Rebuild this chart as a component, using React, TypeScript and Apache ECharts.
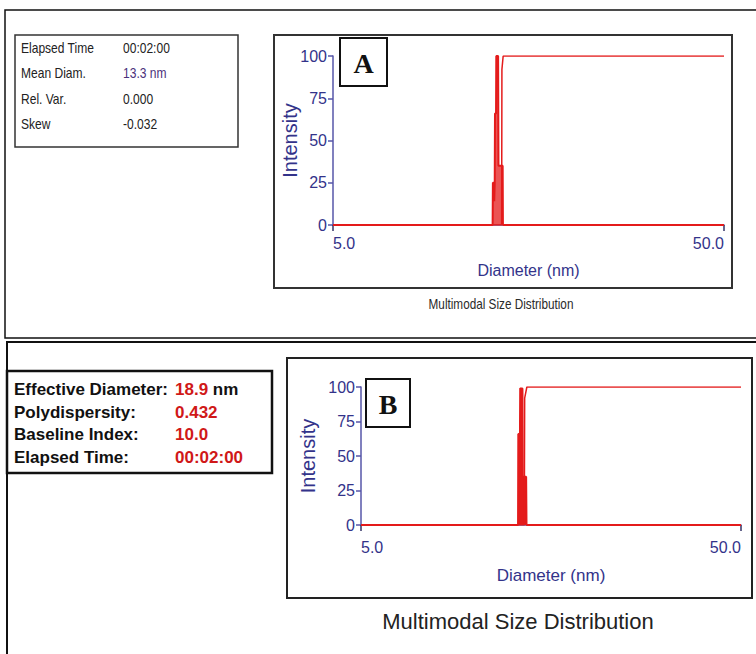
import React, { useEffect, useRef } from "react";
import * as echarts from "echarts";

// ---- Data ----
// Panel A: intensity distribution (spike) and cumulative curve
const diamA = [5, 12.8, 12.82, 12.9, 12.92, 12.96, 12.98, 13.06, 13.08, 13.22, 13.25, 13.58, 13.6, 50];
const intensityA = [0, 0, 25, 25, 14, 25, 66, 66, 100, 100, 35, 35, 0, 0];
const cumDiamA = [5, 13.5, 13.52, 13.62, 50];
const cumA = [0, 0, 92, 100, 100];

// Panel B
const diamB = [5, 12.95, 12.97, 13.1, 13.12, 13.3, 13.33, 13.6, 13.63, 50];
const intensityB = [0, 0, 66, 66, 99, 99, 35, 35, 0, 0];
const cumDiamB = [5, 13.45, 13.48, 13.66, 50];
const cumB = [0, 0, 92, 100, 100];

// Axis ticks
const xTickValues = [5, 50];
const yMin = 0;
const yMax = 100;
const yInterval = 25;

// Info tables
const infoLabelsA = ["Elapsed Time", "Mean Diam.", "Rel. Var.", "Skew"];
const infoValuesA = ["00:02:00", "13.3 nm", "0.000", "-0.032"];
const infoLabelsB = ["Effective Diameter:", "Polydispersity:", "Baseline Index:", "Elapsed Time:"];
const infoValuesB = ["18.9", "0.432", "10.0", "00:02:00"];

const panelLetters = ["A", "B"];
const chartTitle = "Multimodal Size Distribution";
const xName = "Diameter (nm)";
const yName = "Intensity";

const RED = "#e41b1b";
const SANS = '"Liberation Sans", Arial, sans-serif';
const SERIF = '"Liberation Serif", "Times New Roman", serif';
const AXIS_LINE = "#5656a8";
const AXIS_TEXT = "#33338a";

const zip = (xs: number[], ys: number[]) => xs.map((x, i) => [x, ys[i]]);

function xAxisCfg(gridIndex: number, labelSize: number, nameSize: number, nameGap: number, margin: number) {
  return {
    type: "log",
    logBase: 10,
    gridIndex,
    min: 5,
    max: 50,
    name: xName,
    nameLocation: "middle",
    nameGap,
    nameMoveOverlap: false,
    nameTextStyle: { fontSize: nameSize, color: AXIS_TEXT, fontFamily: SANS },
    axisLine: { onZero: false, lineStyle: { color: AXIS_LINE, width: 1.5 } },
    axisTick: { show: true, customValues: xTickValues, length: 6, lineStyle: { color: "#333366", width: 1.5 } },
    axisLabel: {
      customValues: xTickValues,
      formatter: (v: number) => v.toFixed(1),
      alignMinLabel: "left",
      alignMaxLabel: "right",
      margin,
      fontSize: labelSize,
      color: AXIS_TEXT,
      fontFamily: SANS,
    },
    splitLine: { show: false },
    minorTick: { show: false },
  };
}

function yAxisCfg(gridIndex: number, labelSize: number, nameSize: number, nameGap: number) {
  return {
    type: "value",
    gridIndex,
    min: yMin,
    max: yMax,
    interval: yInterval,
    name: yName,
    nameLocation: "middle",
    nameGap,
    nameMoveOverlap: false,
    nameTextStyle: { fontSize: nameSize, color: AXIS_TEXT, fontFamily: SANS },
    axisLine: { show: true, onZero: false, lineStyle: { color: AXIS_LINE, width: 1.5 } },
    axisTick: { show: true, length: 5, lineStyle: { color: AXIS_LINE, width: 1.5 } },
    axisLabel: { margin: 6, fontSize: labelSize, color: AXIS_TEXT, fontFamily: SANS },
    splitLine: { show: false },
  };
}

function lineSeries(idx: number, xs: number[], ys: number[], width: number, area: number) {
  return {
    type: "line",
    xAxisIndex: idx,
    yAxisIndex: idx,
    data: zip(xs, ys),
    symbol: "none",
    showSymbol: false,
    lineStyle: { color: RED, width },
    itemStyle: { color: RED },
    areaStyle: area > 0 ? { color: RED, opacity: area } : undefined,
    z: 3,
  };
}

export default function App() {
  const ref = useRef<HTMLDivElement>(null);
  useEffect(() => {
    if (!ref.current) return;
    const chart = echarts.init(ref.current, null, { renderer: "svg" });

    const graphics: any[] = [];
    // outer frames
    graphics.push({ type: "rect", shape: { x: 5, y: 10, width: 770, height: 328 }, style: { fill: "none", stroke: "#111", lineWidth: 1.5 }, z: 0 });
    graphics.push({ type: "rect", shape: { x: 7, y: 342, width: 770, height: 330 }, style: { fill: "none", stroke: "#111", lineWidth: 2 }, z: 0 });
    // chart frames
    graphics.push({ type: "rect", shape: { x: 274, y: 35, width: 458, height: 253 }, style: { fill: "none", stroke: "#333", lineWidth: 2 }, z: 0 });
    graphics.push({ type: "rect", shape: { x: 287, y: 358, width: 465, height: 240 }, style: { fill: "none", stroke: "#222", lineWidth: 2 }, z: 0 });
    // titles under the charts
    graphics.push({ type: "text", x: 501, y: 304, scaleX: 0.84, style: { text: chartTitle, fontSize: 14, fontFamily: SANS, fill: "#2a2a2a", align: "center", verticalAlign: "middle" } });
    graphics.push({ type: "text", x: 518, y: 621, style: { text: chartTitle, fontSize: 22, fontFamily: SANS, fill: "#222", align: "center", verticalAlign: "middle" } });
    // panel letter boxes
    graphics.push({ type: "rect", shape: { x: 340, y: 38, width: 47, height: 48 }, style: { fill: "#fff", stroke: "#111", lineWidth: 2 }, z: 10 });
    graphics.push({ type: "text", x: 363.5, y: 63, style: { text: panelLetters[0], fontSize: 28, fontWeight: "bold", fontFamily: SERIF, fill: "#111", align: "center", verticalAlign: "middle" }, z: 11 });
    graphics.push({ type: "rect", shape: { x: 366, y: 379, width: 44, height: 48 }, style: { fill: "#fff", stroke: "#111", lineWidth: 2 }, z: 10 });
    graphics.push({ type: "text", x: 388, y: 404, style: { text: panelLetters[1], fontSize: 28, fontWeight: "bold", fontFamily: SERIF, fill: "#111", align: "center", verticalAlign: "middle" }, z: 11 });

    // info box A
    graphics.push({ type: "rect", shape: { x: 15, y: 35, width: 223, height: 112 }, style: { fill: "none", stroke: "#333", lineWidth: 1.5 } });
    const rowsA = [48, 73, 99, 124];
    infoLabelsA.forEach((t, i) => {
      graphics.push({ type: "text", x: 21, y: rowsA[i], scaleX: 0.86, style: { text: t, fontSize: 14, fontFamily: SANS, fill: "#222", verticalAlign: "middle" } });
      graphics.push({ type: "text", x: 123, y: rowsA[i], scaleX: 0.86, style: { text: infoValuesA[i], fontSize: 14, fontFamily: SANS, fill: i === 1 ? "#4a2f7a" : "#222", verticalAlign: "middle" } });
    });

    // info box B
    graphics.push({ type: "rect", shape: { x: 7, y: 371, width: 265, height: 102 }, style: { fill: "none", stroke: "#111", lineWidth: 2.5 } });
    const rowsB = [389, 412, 434, 457];
    infoLabelsB.forEach((t, i) => {
      graphics.push({ type: "text", x: 14, y: rowsB[i], style: { text: t, fontSize: 17, fontWeight: "bold", fontFamily: SANS, fill: "#111", verticalAlign: "middle" } });
      graphics.push({
        type: "text",
        x: 175,
        y: rowsB[i],
        style: {
          text: i === 0 ? `{r|${infoValuesB[i]}}{k| nm}` : `{r|${infoValuesB[i]}}`,
          rich: {
            r: { fontSize: 17, fontWeight: "bold", fontFamily: SANS, fill: "#d01818", color: "#d01818" },
            k: { fontSize: 17, fontWeight: "bold", fontFamily: SANS, fill: "#111", color: "#111" },
          },
          verticalAlign: "middle",
        },
      });
    });

    const option: any = {
      animation: false,
      backgroundColor: "#ffffff",
      grid: [
        { left: 333, right: 32, top: 56, bottom: 429, containLabel: false },
        { left: 361, right: 15, top: 387, bottom: 129, containLabel: false },
      ],
      xAxis: [xAxisCfg(0, 16, 16, 37, 10), xAxisCfg(1, 16, 17, 42, 14)],
      yAxis: [yAxisCfg(0, 16, 20, 33), yAxisCfg(1, 16, 20, 43)],
      series: [
        lineSeries(0, diamA, intensityA, 2, 0.75),
        lineSeries(0, cumDiamA, cumA, 1.5, 0),
        lineSeries(1, diamB, intensityB, 2, 1),
        lineSeries(1, cumDiamB, cumB, 1.5, 0),
      ],
      graphic: graphics,
    };
    chart.setOption(option);
    return () => chart.dispose();
  }, []);
  return <div ref={ref} style={{ position: "absolute", left: 0, top: 0, width: 756, height: 654 }} />;
}
